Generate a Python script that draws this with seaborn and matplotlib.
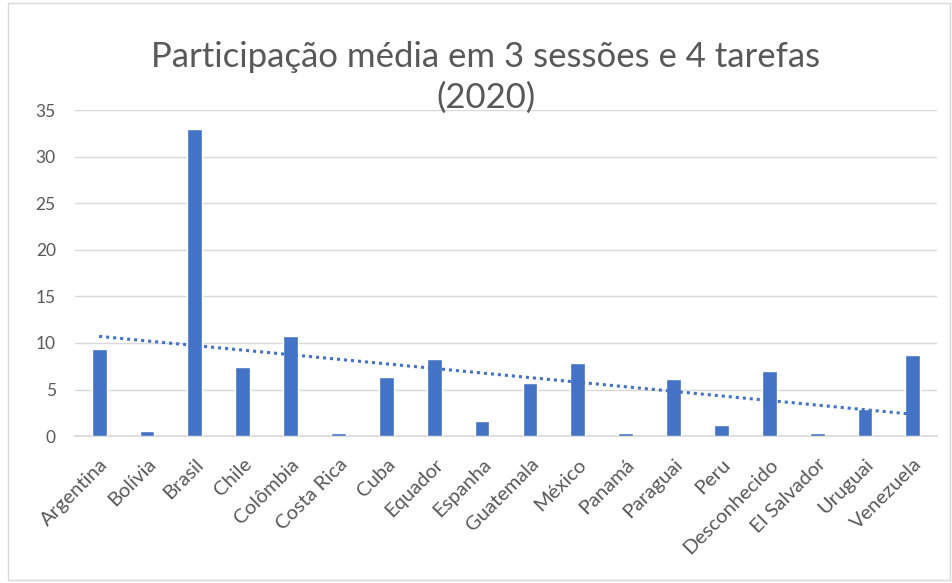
import numpy as np
import pandas as pd
import matplotlib
matplotlib.use("Agg")
import matplotlib.pyplot as plt
import seaborn as sns

# dados
paises = ['Argentina', 'Bolívia', 'Brasil', 'Chile', 'Colômbia', 'Costa Rica', 'Cuba',
          'Equador', 'Espanha', 'Guatemala', 'México', 'Panamá', 'Paraguai', 'Peru',
          'Desconhecido', 'El Salvador', 'Uruguai', 'Venezuela']
participacao = [9.3, 0.5, 33.0, 7.4, 10.8, 0.3, 6.3, 8.3, 1.6, 5.7, 7.8, 0.3, 6.1, 1.2,
                7.0, 0.3, 2.9, 8.7]
yticks = [0, 5, 10, 15, 20, 25, 30, 35]

df = pd.DataFrame({'pais': paises, 'valor': participacao})

sns.set_theme(style='white')
plt.rcParams['font.family'] = ['Lato', 'DejaVu Sans']

fig = plt.figure(figsize=(9.52, 5.83), dpi=100)
ax = fig.add_axes([0.079, 0.252, 0.905, 0.559])

sns.barplot(x='pais', y='valor', data=df, color='#4472C4', width=0.31,
            saturation=1, ax=ax, zorder=3)

# linha de tendência linear
x = np.arange(len(paises))
a, b = np.polyfit(x, participacao, 1)
ax.plot([x[0], x[-1]], [a * x[0] + b, a * x[-1] + b], linestyle=(0, (1, 1.3)),
        color='#4472C4', linewidth=2.2, zorder=4)

ax.set_ylim(0, 35)
ax.set_xlim(-0.5, len(paises) - 0.5)
ax.set_yticks(yticks)
ax.yaxis.grid(True, color='#d9d9d9', linewidth=1)
ax.set_axisbelow(True)
for s in ['top', 'right', 'left']:
    ax.spines[s].set_visible(False)
ax.spines['bottom'].set_color('#d9d9d9')
ax.set_xlabel('')
ax.set_ylabel('')
ax.tick_params(axis='y', colors='#595959', labelsize=12.5, length=0, pad=14)
ax.tick_params(axis='x', colors='#595959', labelsize=14.5, length=0, pad=14)
plt.setp(ax.get_xticklabels(), rotation=45, ha='right', rotation_mode='anchor')

fig.text(0.51, 0.867, 'Participação média em 3 sessões e 4 tarefas\n(2020)',
         ha='center', va='center', fontsize=25, color='#595959', linespacing=1.35)

# moldura
fig.patches.append(plt.Rectangle((0.008, 0.005), 0.99, 0.99, transform=fig.transFigure,
                                 fill=False, edgecolor='#d9d9d9', linewidth=1))

fig.savefig('out.png', dpi=100)
